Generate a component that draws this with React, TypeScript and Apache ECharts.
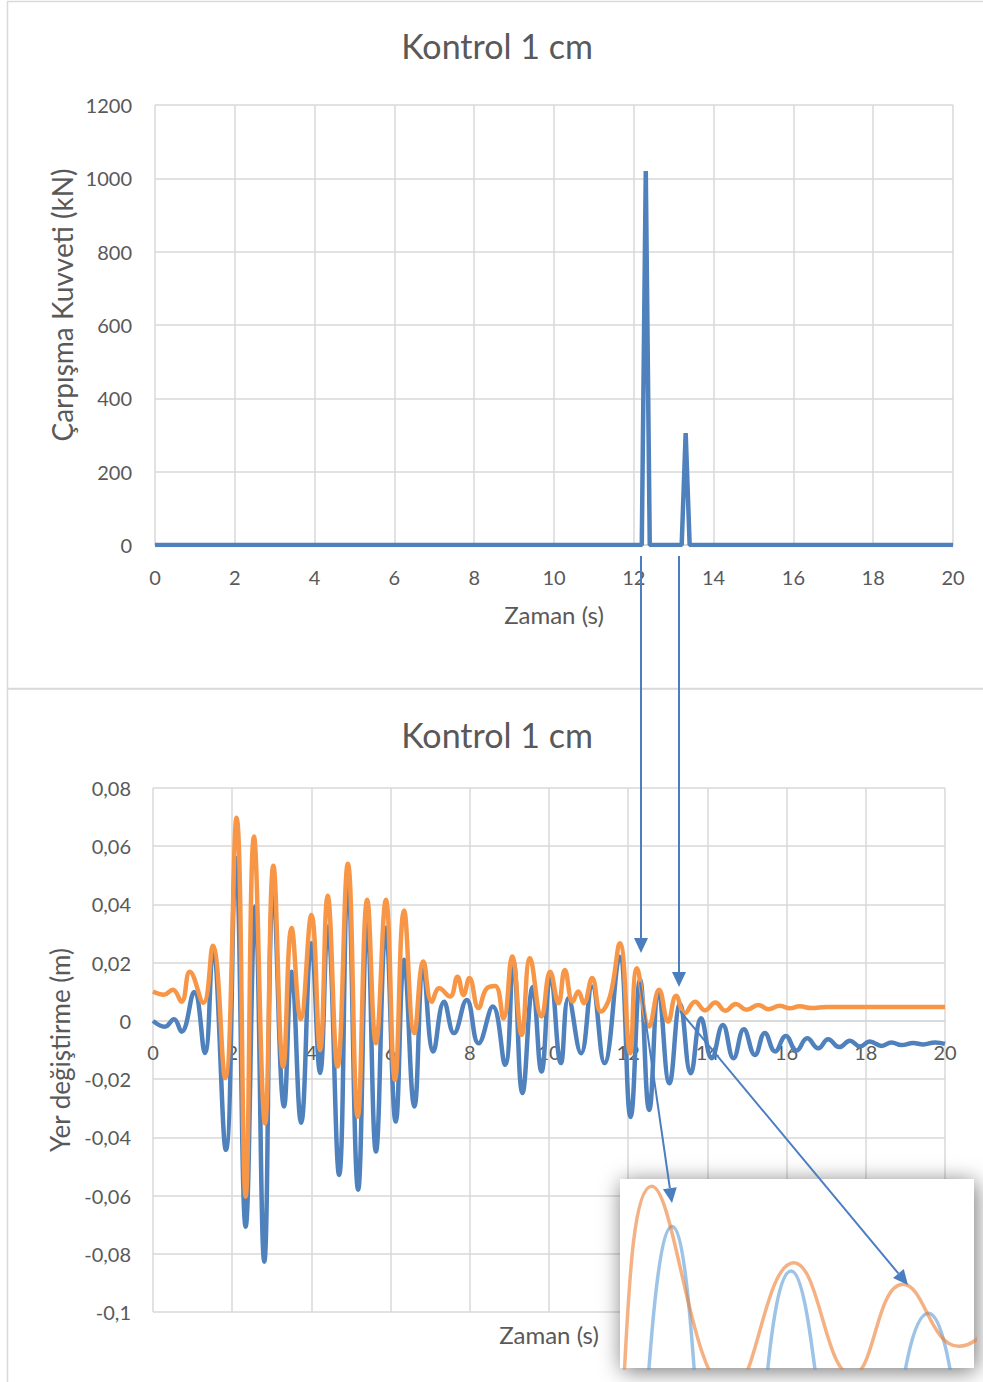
import React, { useEffect, useRef } from 'react';
import * as echarts from 'echarts';

// ---- Data ----
const titleText = 'Kontrol 1 cm';
const xTicks = [0, 2, 4, 6, 8, 10, 12, 14, 16, 18, 20];
const dispMin = -0.1;
const dispMax = 0.08;

// Top chart: impact force (kN)
const forceT = [0, 12.2, 12.3, 12.4, 13.2, 13.3, 13.4, 20];
const forceKN = [0, 0, 1020, 0, 0, 305, 0, 0];

// Bottom chart: displacement (m), blue series
const blueT = [0, 0.3, 0.53, 0.72, 1.04, 1.31, 1.51, 1.84, 2.09, 2.34, 2.58, 2.81, 3.04, 3.31, 3.5, 3.74, 4.0, 4.22, 4.41, 4.7, 4.92, 5.18, 5.41, 5.63, 5.88, 6.13, 6.34, 6.6, 6.83, 7.08, 7.35, 7.6, 7.92, 8.22, 8.58, 8.89, 9.1, 9.33, 9.59, 9.81, 10.04, 10.3, 10.49, 10.81, 11.09, 11.4, 11.78, 12.06, 12.3, 12.53, 12.77, 13.04, 13.31, 13.58, 13.84, 14.11, 14.39, 14.66, 14.92, 15.2, 15.45, 15.71, 15.98, 16.25, 16.52, 16.8, 17.05, 17.33, 17.6, 17.85, 18.1, 18.4, 18.65, 18.9, 19.2, 19.45, 19.75, 20];
const blueV = [0, -0.002, 0.0006, -0.0037, 0.0099, -0.011, 0.0233, -0.0443, 0.056, -0.0707, 0.0393, -0.0827, 0.046, -0.0294, 0.0169, -0.035, 0.0267, -0.0179, 0.0324, -0.0529, 0.0496, -0.058, 0.0347, -0.0449, 0.032, -0.0346, 0.021, -0.0294, 0.0175, -0.0105, 0.0066, -0.0042, 0.0072, -0.0077, 0.0049, -0.0151, 0.0204, -0.0248, 0.0116, -0.0174, 0.0158, -0.0145, 0.0078, -0.0111, 0.0118, -0.0145, 0.022, -0.033, 0.0142, -0.0306, 0.0099, -0.0214, 0.0058, -0.018, 0.0009, -0.0128, -0.0014, -0.0128, -0.0029, -0.0117, -0.0042, -0.0105, -0.0052, -0.0102, -0.006, -0.0094, -0.0063, -0.009, -0.0068, -0.0088, -0.0071, -0.0086, -0.0074, -0.0083, -0.0076, -0.0081, -0.0074, -0.0079];

// Bottom chart: displacement (m), orange series
const orangeT = [0, 0.28, 0.5, 0.72, 0.93, 1.27, 1.51, 1.82, 2.11, 2.34, 2.55, 2.83, 3.04, 3.29, 3.5, 3.73, 4.0, 4.22, 4.41, 4.66, 4.92, 5.17, 5.41, 5.63, 5.88, 6.11, 6.34, 6.6, 6.83, 7.04, 7.23, 7.5, 7.69, 7.84, 7.99, 8.22, 8.43, 8.64, 8.85, 9.07, 9.31, 9.52, 9.81, 10.03, 10.24, 10.4, 10.6, 10.74, 10.88, 11.09, 11.31, 11.54, 11.79, 12.05, 12.22, 12.53, 12.78, 13.01, 13.21, 13.43, 13.69, 13.94, 14.2, 14.45, 14.72, 14.99, 15.29, 15.54, 15.83, 16.08, 16.33, 16.63, 17, 18, 20];
const orangeV = [0.0101, 0.009, 0.0107, 0.0066, 0.0169, 0.0062, 0.0258, -0.0196, 0.0698, -0.0604, 0.0633, -0.0352, 0.0533, -0.0157, 0.0319, 0.0006, 0.0364, -0.01, 0.043, -0.0157, 0.054, -0.0329, 0.0416, -0.0077, 0.0416, -0.0203, 0.0379, -0.0042, 0.0204, 0.0066, 0.0112, 0.0084, 0.0152, 0.0089, 0.0147, 0.0044, 0.0112, 0.012, 0.0009, 0.0221, -0.0048, 0.0215, 0.0015, 0.0169, 0.0061, 0.0175, 0.0066, 0.0101, 0.0061, 0.0147, 0.0032, 0.0084, 0.0267, -0.0111, 0.0181, -0.0019, 0.0107, -0.0002, 0.0086, 0.0026, 0.0066, 0.0036, 0.0063, 0.0035, 0.0058, 0.0038, 0.0055, 0.004, 0.0052, 0.0043, 0.005, 0.0044, 0.0048, 0.0048, 0.0048];

// Zoomed inset window (time and displacement range)
const insetT = [12.095, 13.49];
const insetV = [0.0005, 0.0188];

// ---- Styling / layout ----
const FONT = 'Lato';
const TXT = '#595959';
const GRID_C = '#D9D9D9';
const BLUE = '#4F81BD';
const ORANGE = '#F79646';
const ARROW = '#4A7EBF';
const LW = 4.5;

const G2 = { left: 153, top: 788, width: 792, height: 524 };
const zeroH = (G2.height * dispMax) / (dispMax - dispMin);

const pairs = (xs: number[], ys: number[]) => xs.map((x, i) => [x, ys[i]]);

function arrow(x1: number, y1: number, x2: number, y2: number, z: number) {
  const dx = x2 - x1;
  const dy = y2 - y1;
  const len = Math.sqrt(dx * dx + dy * dy);
  const ux = dx / len;
  const uy = dy / len;
  const hl = 15;
  const hw = 7;
  const bx = x2 - ux * hl;
  const by = y2 - uy * hl;
  return [
    {
      type: 'line',
      z,
      shape: { x1, y1, x2: bx, y2: by },
      style: { stroke: ARROW, lineWidth: 2 },
    },
    {
      type: 'polygon',
      z,
      shape: {
        points: [
          [x2, y2],
          [bx - uy * hw, by + ux * hw],
          [bx + uy * hw, by - ux * hw],
        ],
      },
      style: { fill: ARROW },
    },
  ];
}

const labelStyle = { color: TXT, fontFamily: FONT, fontSize: 20 };

const commaFmt = (v: number) => {
  const r = Math.round(v * 100) / 100;
  return String(r).replace('.', ',');
};
const plainFmt = (v: number) => String(Math.round(v));

const gridBase = { outerBoundsMode: 'none', containLabel: false };

const option: any = {
  animation: false,
  backgroundColor: '#ffffff',
  grid: [
    { left: 155, top: 105, width: 798, height: 440, ...gridBase },
    { ...G2, ...gridBase },
    { left: 620, top: 1179, width: 354, height: 189, ...gridBase },
    { left: G2.left, top: G2.top, width: G2.width, height: zeroH, ...gridBase },
  ],
  xAxis: [
    {
      gridIndex: 0,
      type: 'value',
      min: xTicks[0],
      max: xTicks[xTicks.length - 1],
      interval: 2,
      name: 'Zaman (s)',
      nameLocation: 'middle',
      nameGap: 57,
      nameTextStyle: { color: TXT, fontFamily: FONT, fontSize: 24 },
      axisLine: { show: true, lineStyle: { color: GRID_C, width: 1.5 } },
      axisTick: { show: false },
      axisLabel: { ...labelStyle, margin: 22 },
      splitLine: { show: true, lineStyle: { color: GRID_C, width: 1.5 } },
    },
    {
      gridIndex: 1,
      type: 'value',
      min: xTicks[0],
      max: xTicks[xTicks.length - 1],
      interval: 2,
      name: 'Zaman (s)',
      nameLocation: 'middle',
      nameGap: 10,
      nameTextStyle: { color: TXT, fontFamily: FONT, fontSize: 24 },
      axisLine: { show: false, onZero: false },
      axisTick: { show: false },
      axisLabel: { show: false },
      splitLine: { show: true, lineStyle: { color: GRID_C, width: 1.5 } },
    },
    {
      gridIndex: 2,
      type: 'value',
      min: insetT[0],
      max: insetT[1],
      show: false,
      splitLine: { show: false },
    },
    {
      gridIndex: 3,
      type: 'value',
      min: xTicks[0],
      max: xTicks[xTicks.length - 1],
      interval: 2,
      axisLine: { show: true, lineStyle: { color: GRID_C, width: 1.5 } },
      axisTick: { show: false },
      axisLabel: { ...labelStyle, margin: 21 },
      splitLine: { show: false },
    },
  ],
  yAxis: [
    {
      gridIndex: 0,
      type: 'value',
      min: 0,
      max: 1200,
      interval: 200,
      axisLine: { show: false },
      axisTick: { show: false },
      axisLabel: { ...labelStyle, margin: 23, formatter: plainFmt },
      splitLine: { show: true, lineStyle: { color: GRID_C, width: 1.5 } },
    },
    {
      gridIndex: 1,
      type: 'value',
      min: dispMin,
      max: dispMax,
      interval: 0.02,
      name: 'Yer değiştirme (m)',
      nameLocation: 'middle',
      nameGap: 80,
      nameTextStyle: { color: TXT, fontFamily: FONT, fontSize: 26 },
      axisLine: { show: false },
      axisTick: { show: false },
      axisLabel: { ...labelStyle, margin: 22, formatter: commaFmt },
      splitLine: { show: true, lineStyle: { color: GRID_C, width: 1.5 } },
    },
    {
      gridIndex: 2,
      type: 'value',
      min: insetV[0],
      max: insetV[1],
      show: false,
      splitLine: { show: false },
    },
    {
      gridIndex: 3,
      type: 'value',
      min: 0,
      max: dispMax,
      show: false,
      splitLine: { show: false },
    },
  ],
  series: [
    {
      type: 'line',
      xAxisIndex: 0,
      yAxisIndex: 0,
      data: pairs(forceT, forceKN),
      showSymbol: false,
      lineStyle: { color: BLUE, width: LW },
      itemStyle: { color: BLUE },
      z: 3,
    },
    {
      type: 'line',
      xAxisIndex: 1,
      yAxisIndex: 1,
      data: pairs(blueT, blueV),
      showSymbol: false,
      smooth: 0.45,
      lineStyle: { color: BLUE, width: LW },
      itemStyle: { color: BLUE },
      z: 3,
    },
    {
      type: 'line',
      xAxisIndex: 1,
      yAxisIndex: 1,
      data: pairs(orangeT, orangeV),
      showSymbol: false,
      smooth: 0.45,
      lineStyle: { color: ORANGE, width: LW },
      itemStyle: { color: ORANGE },
      z: 4,
    },
    {
      type: 'line',
      xAxisIndex: 2,
      yAxisIndex: 2,
      data: pairs(blueT, blueV),
      showSymbol: false,
      smooth: 0.45,
      clip: true,
      lineStyle: { color: 'rgba(91,155,213,0.6)', width: 3.5 },
      itemStyle: { color: 'rgba(91,155,213,0.6)' },
      z: 21,
    },
    {
      type: 'line',
      xAxisIndex: 2,
      yAxisIndex: 2,
      data: pairs(orangeT, orangeV),
      showSymbol: false,
      smooth: 0.45,
      clip: true,
      lineStyle: { color: 'rgba(237,125,49,0.6)', width: 3.5 },
      itemStyle: { color: 'rgba(237,125,49,0.6)' },
      z: 22,
    },
  ],
  graphic: [
    {
      type: 'rect',
      z: 0,
      shape: { x: 7.5, y: 1.5, width: 990, height: 687 },
      style: { fill: 'none', stroke: GRID_C, lineWidth: 1.5 },
      silent: true,
    },
    {
      type: 'rect',
      z: 0,
      shape: { x: 7.5, y: 689, width: 990, height: 700 },
      style: { fill: 'none', stroke: GRID_C, lineWidth: 1.5 },
      silent: true,
    },
    {
      type: 'text',
      z: 5,
      x: 497,
      y: 45,
      style: {
        text: titleText,
        fill: TXT,
        font: `34px ${FONT}`,
        textAlign: 'center',
        textVerticalAlign: 'middle',
      },
    },
    {
      type: 'text',
      z: 5,
      x: 497,
      y: 734,
      style: {
        text: titleText,
        fill: TXT,
        font: `34px ${FONT}`,
        textAlign: 'center',
        textVerticalAlign: 'middle',
      },
    },
    {
      type: 'text',
      z: 5,
      x: 62,
      y: 305,
      rotation: Math.PI / 2,
      style: {
        text: 'Çarpışma Kuvveti (kN)',
        fill: TXT,
        font: `28px ${FONT}`,
        textAlign: 'center',
        textVerticalAlign: 'middle',
      },
    },
    {
      type: 'rect',
      z: 10,
      shape: { x: 620, y: 1179, width: 354, height: 189 },
      style: {
        fill: '#ffffff',
        shadowBlur: 22,
        shadowColor: 'rgba(0,0,0,0.55)',
        shadowOffsetX: 2,
        shadowOffsetY: 3,
      },
      silent: true,
    },
    ...arrow(641, 556, 641, 953, 30),
    ...arrow(679, 556, 679, 987, 30),
    ...arrow(680, 1011, 908, 1285, 30),
    ...arrow(640, 982, 672, 1203, 30),
  ],
};

export default function App() {
  const ref = useRef<HTMLDivElement>(null);
  useEffect(() => {
    const chart = echarts.init(ref.current as HTMLDivElement, undefined, { renderer: 'svg' });
    chart.setOption(option);
    return () => {
      chart.dispose();
    };
  }, []);
  return (
    <div
      ref={ref}
      style={{ position: 'absolute', left: 0, top: 0, width: 983, height: 1382, background: '#fff' }}
    />
  );
}
